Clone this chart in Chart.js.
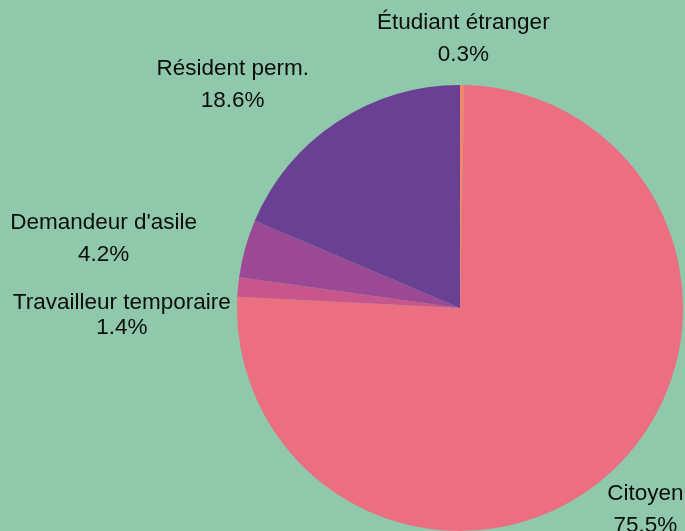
<!DOCTYPE html>
<html>
<head>
<meta charset="utf-8">
<script src="https://cdn.jsdelivr.net/npm/chart.js@4"></script>
<style>
  html, body { margin: 0; padding: 0; background: #8fc8ab; }
  canvas { display: block; }
</style>
</head>
<body>
<canvas id="chart" width="685" height="531"></canvas>
<script>
// data, clockwise from 12 o'clock
const categories = ["Étudiant étranger", "Citoyen", "Travailleur temporaire", "Demandeur d'asile", "Résident perm."];
const shares = [0.3, 75.5, 1.4, 4.2, 18.6];
const sliceColors = ["#f3876b", "#eb6f80", "#c8558c", "#9c4995", "#6a4092"];

// label nudges relative to the point at 1.1 x radius (dx, dy of first line, line gap)
const labelNudge = [
  [1, -40, 32],
  [18, 6, 32],
  [-94, 18, 25],
  [-120, -20, 32],
  [-92, -35, 32]
];

const outsideLabels = {
  id: "outsideLabels",
  afterDatasetsDraw(chart) {
    const ctx = chart.ctx;
    const meta = chart.getDatasetMeta(0);
    const total = shares.reduce((a, b) => a + b, 0);
    ctx.save();
    ctx.font = "22.5px 'Liberation Sans', Arial, sans-serif";
    ctx.fillStyle = "#0d0d0d";
    ctx.textAlign = "center";
    ctx.textBaseline = "middle";
    meta.data.forEach((arc, i) => {
      const p = arc.getProps(["x", "y", "startAngle", "endAngle", "outerRadius"], true);
      const mid = (p.startAngle + p.endAngle) / 2;
      const ax = p.x + Math.cos(mid) * p.outerRadius * 1.1;
      const ay = p.y + Math.sin(mid) * p.outerRadius * 1.1;
      const n = labelNudge[i];
      const pct = (shares[i] / total * 100).toFixed(1) + "%";
      ctx.fillText(categories[i], ax + n[0], ay + n[1]);
      ctx.fillText(pct, ax + n[0], ay + n[1] + n[2]);
    });
    ctx.restore();
  }
};

const ctx = document.getElementById("chart").getContext("2d");
const myChart = new Chart(ctx, {
  type: "pie",
  data: {
    labels: categories,
    datasets: [{
      data: shares,
      backgroundColor: sliceColors,
      borderWidth: 0
    }]
  },
  options: {
    responsive: false,
    animation: false,
    layout: { padding: { left: 237, right: 2, top: 85, bottom: 0 } },
    plugins: {
      legend: { display: false },
      tooltip: { enabled: false }
    }
  },
  plugins: [outsideLabels]
});
</script>
</body>
</html>
